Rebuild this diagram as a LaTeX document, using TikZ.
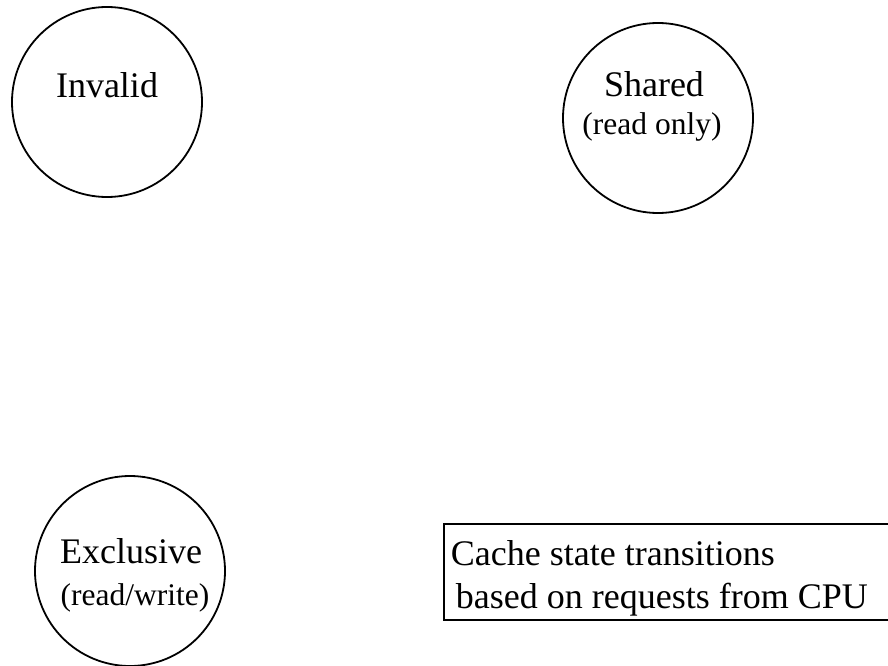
\documentclass[tikz,border=0pt]{standalone}
\usepackage{fontspec}
\setmainfont{Liberation Serif}
\usetikzlibrary{positioning}

\begin{document}
\begin{tikzpicture}[x=1pt, y=-1pt,
  state/.style = {draw, circle, line width=1.8pt, minimum size=190pt, inner sep=0pt},
  bigtext/.style = {font=\fontsize{36}{43}\selectfont, inner sep=0pt, anchor=base},
  subtext/.style = {font=\fontsize{31.5}{37}\selectfont, inner sep=0pt, anchor=base}]
\useasboundingbox (0,0) rectangle (888,666);
% states
\node[state](inv) at (107,102) {};
\node[bigtext](invt) at (107,98) {Invalid};
\node[state](shd) at (658,118) {};
\node[bigtext](shdt) at (654,97) {Shared};
\node[subtext](shds) at (652,135) {(read only)};
\node[state](exc) at (130,571) {};
\node[bigtext](exct) at (131,563) {Exclusive};
\node[subtext](excs) at (135,605) {(read/write)};
% caption box
\node[draw, line width=1.8pt, anchor=north west, inner ysep=0pt, inner xsep=7pt,
  text width=460pt, align=flush left, font=\fontsize{36}{43}\selectfont](note) at (443,523)
  {\rule{0pt}{42pt}Cache state transitions\\\hspace{5pt}based on requests from CPU\rule[-11pt]{0pt}{0pt}};
\end{tikzpicture}
\end{document}
